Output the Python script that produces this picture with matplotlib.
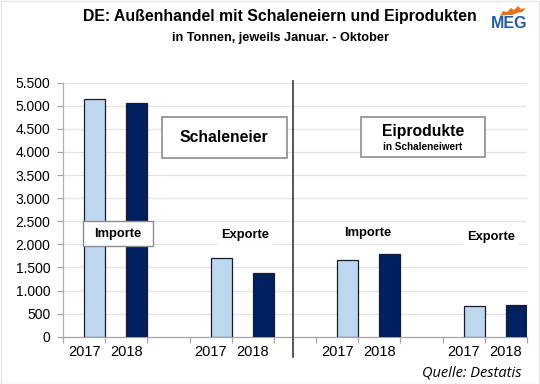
import numpy as np
import matplotlib
matplotlib.use("Agg")
import matplotlib.pyplot as plt
from matplotlib.patches import Rectangle, Polygon
from matplotlib.ticker import FuncFormatter, FixedLocator
import matplotlib.transforms as mtransforms

plt.rcParams['font.family'] = ['Liberation Sans', 'DejaVu Sans']

# ---- data ----
years = ["2017", "2018"]
categories = ["2017", "2018", "", "2017", "2018", "", "2017", "2018", "", "2017", "2018"]
schal_import = [5150, 5050]
schal_export = [1700, 1375]
eip_import = [1660, 1780]
eip_export = [665, 680]
y_ticks = [0, 500, 1000, 1500, 2000, 2500, 3000, 3500, 4000, 4500, 5000, 5500]

values = schal_import + [np.nan] + schal_export + [np.nan] + eip_import + [np.nan] + eip_export

c2017 = "#BDD7EE"
c2018 = "#002060"
colors = []
for c in categories:
    colors.append(c2017 if c == "2017" else c2018)

fig = plt.figure(figsize=(5.4, 3.84), dpi=100)
fig.patch.set_facecolor("white")
fig.patches.append(Rectangle((0.001, 0.001), 0.997, 0.997, transform=fig.transFigure,
                             fill=False, edgecolor="#e4e4e4", lw=1.0))

ax = fig.add_axes([63/540, 1-336.7/384, (527-63)/540, (336.7-82.7)/384])
x = np.arange(len(categories))
ax.bar(x + 0.25, values, width=0.5, color=colors, edgecolor="#1b1b2b", linewidth=0.9, zorder=3)

ax.set_xlim(-0.5, len(categories) - 0.5)
ax.set_ylim(0, 5500)
ax.yaxis.set_major_locator(FixedLocator(y_ticks))
ax.yaxis.set_major_formatter(FuncFormatter(lambda v, p: f"{int(v):,}".replace(",", ".")))
ax.grid(axis="y", color="#e4e4e4", lw=0.9, zorder=0)
ax.set_axisbelow(True)

ax.set_xticks(x)
ax.set_xticklabels(categories, fontsize=10.5)
ax.tick_params(axis="x", which="major", length=0, pad=6)
ax.set_xticks(np.arange(-0.5, len(categories) + 0.5, 1), minor=True)
ax.tick_params(axis="x", which="minor", length=4, color="#a6a6a6", width=0.9)
ax.tick_params(axis="y", length=4, color="#a6a6a6", width=0.9, pad=5, labelsize=10)

for s in ["top", "right"]:
    ax.spines[s].set_visible(False)
ax.spines["left"].set_color("#b0b0b0")
ax.spines["bottom"].set_color("#a6a6a6")
ax.spines["left"].set_linewidth(0.9)
ax.spines["bottom"].set_linewidth(0.9)

# separator line
trans = mtransforms.blended_transform_factory(ax.transData, ax.transAxes)
ax.plot([4.95, 4.95], [-0.079, 1.008], transform=trans, color="#3a3a3a", lw=1.2,
        clip_on=False, zorder=5)

def fx(px):
    return px / 540
def fy(py):
    return 1 - py / 384

for (x0, x1, y0, y1) in [(161.7, 286.7, 117, 158), (361, 485, 116.7, 156.7)]:
    fig.patches.append(Rectangle((fx(x0), fy(y1)), fx(x1) - fx(x0), fy(y0) - fy(y1),
                                 transform=fig.transFigure, facecolor="white",
                                 edgecolor="#8c8c8c", lw=1.2, zorder=6))
fig.text(fx(224), fy(137.5), "Schaleneier", fontsize=11.3, fontweight="bold",
         ha="center", va="center", zorder=7)
fig.text(fx(423), fy(131.5), "Eiprodukte", fontsize=11.3, fontweight="bold",
         ha="center", va="center", zorder=7)
fig.text(fx(423), fy(146.5), "in Schaleneiwert", fontsize=7.2, fontweight="bold",
         ha="center", va="center", zorder=7)

fig.patches.append(Rectangle((fx(82.7), fy(246)), fx(153) - fx(82.7), fy(220.7) - fy(246),
                             transform=fig.transFigure, facecolor="white",
                             edgecolor="#8c8c8c", lw=1.0, zorder=6))
fig.text(fx(118), fy(233.5), "Importe", fontsize=9.3, fontweight="bold",
         ha="center", va="center", zorder=7)
for (px, py, t) in [(245, 235, "Exporte"), (368, 233.3, "Importe"), (491, 236.7, "Exporte")]:
    fig.text(fx(px), fy(py), t, fontsize=9.3, fontweight="bold", ha="center", va="center",
             zorder=7, bbox=dict(facecolor="white", edgecolor="none", pad=3))

# titles
fig.text(fx(280), fy(17), "DE: Außenhandel mit Schaleneiern und Eiprodukten",
         fontsize=11.4, fontweight="bold", ha="center", va="center")
fig.text(fx(280), fy(38), "in Tonnen, jeweils Januar. - Oktober",
         fontsize=9.2, fontweight="bold", ha="center", va="center")

# logo
fig.text(fx(509), fy(23), "MEG", fontsize=11.5, color="#1f5ca8", ha="center", va="center",
         fontweight="bold")
flame = [(500, 16), (503, 11), (507, 12), (511, 8), (514, 10), (518, 6), (521, 9), (526, 8),
         (522, 12), (517, 13), (512, 15), (506, 15)]
fig.patches.append(Polygon([(fx(a), fy(b)) for a, b in flame], closed=True,
                           transform=fig.transFigure, facecolor="#e8731e", edgecolor="none"))

fig.text(fx(521), fy(373), "Quelle: Destatis", fontsize=10.5, style="italic",
         ha="right", va="center", family=["Open Sans", "DejaVu Sans"])

fig.savefig("out.png", dpi=100, facecolor="white")
